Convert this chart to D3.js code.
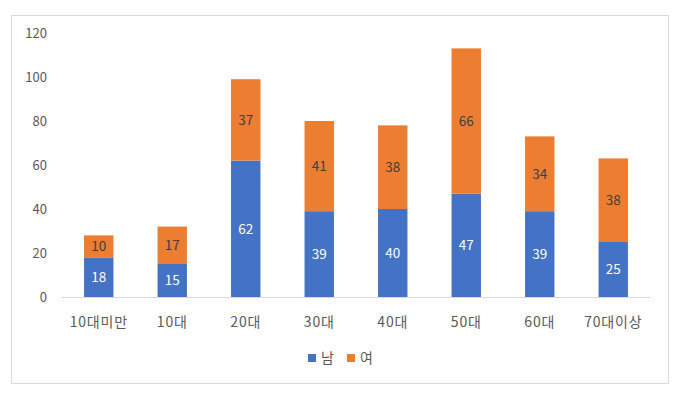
<!DOCTYPE html>
<html>
<head>
<meta charset="utf-8">
<script src="https://cdn.jsdelivr.net/npm/d3@7"></script>
<style>
  body { margin: 0; background: #fff; }
  text { font-family: "Noto Sans CJK KR", "Noto Sans", sans-serif; }
</style>
</head>
<body>
<div id="chart-area"></div>
<script>
// data
const categories = ["10대미만", "10대", "20대", "30대", "40대", "50대", "60대", "70대이상"];
const male = [18, 15, 62, 39, 40, 47, 39, 25];
const female = [10, 17, 37, 41, 38, 66, 34, 38];
const yTicks = [0, 20, 40, 60, 80, 100, 120];
const seriesNames = ["남", "여"];
const colors = ["#4472C4", "#ED7D31"];

const W = 680, H = 396;
const svg = d3.select("#chart-area").append("svg")
  .attr("width", W)
  .attr("height", H);

// chart border
svg.append("rect")
  .attr("x", 11.5).attr("y", 15.5)
  .attr("width", 657).attr("height", 368)
  .attr("fill", "#fff")
  .attr("stroke", "#d9d9d9");

const plot = { left: 62, right: 650, top: 33, bottom: 297 };

const x = d3.scaleBand()
  .domain(categories)
  .range([plot.left, plot.right])
  .paddingInner(0.6)
  .paddingOuter(0.3);

const y = d3.scaleLinear()
  .domain([0, 120])
  .range([plot.bottom, plot.top]);

// y tick labels
svg.append("g")
  .selectAll("text")
  .data(yTicks)
  .join("text")
  .attr("x", 47)
  .attr("y", d => y(d))
  .attr("dy", "0.35em")
  .attr("text-anchor", "end")
  .attr("font-size", 13)
  .attr("fill", "#595959")
  .text(d => d);

// stacked data
const rows = categories.map((c, i) => ({ cat: c, m: male[i], f: female[i] }));
const stack = d3.stack().keys(["m", "f"])(rows);

const layers = svg.append("g")
  .selectAll("g")
  .data(stack)
  .join("g")
  .attr("fill", (d, i) => colors[i]);

layers.selectAll("rect")
  .data(d => d)
  .join("rect")
  .attr("x", d => x(d.data.cat))
  .attr("width", x.bandwidth())
  .attr("y", d => y(d[1]))
  .attr("height", d => y(d[0]) - y(d[1]));

// value labels
layers.each(function (layer, li) {
  d3.select(this).selectAll("text")
    .data(layer)
    .join("text")
    .attr("x", d => x(d.data.cat) + x.bandwidth() / 2)
    .attr("y", d => (y(d[0]) + y(d[1])) / 2)
    .attr("dy", "0.35em")
    .attr("text-anchor", "middle")
    .attr("font-size", 13.5)
    .attr("fill", li === 0 ? "#ffffff" : "#404040")
    .text(d => d[1] - d[0]);
});

// x axis line
svg.append("line")
  .attr("x1", plot.left).attr("x2", plot.right)
  .attr("y1", plot.bottom + 0.5).attr("y2", plot.bottom + 0.5)
  .attr("stroke", "#d9d9d9");

// x labels
svg.append("g")
  .selectAll("text")
  .data(categories)
  .join("text")
  .attr("x", d => x(d) + x.bandwidth() / 2)
  .attr("y", 322)
  .attr("dy", "0.35em")
  .attr("text-anchor", "middle")
  .attr("font-size", 14)
  .attr("letter-spacing", 0.8)
  .attr("fill", "#595959")
  .text(d => d);

// legend
const legend = svg.append("g");
const legendX = [308, 347];
seriesNames.forEach((name, i) => {
  legend.append("rect")
    .attr("x", legendX[i]).attr("y", 354)
    .attr("width", 8).attr("height", 8)
    .attr("fill", colors[i]);
  legend.append("text")
    .attr("x", legendX[i] + 13).attr("y", 358)
    .attr("dy", "0.35em")
    .attr("font-size", 14)
    .attr("fill", "#595959")
    .text(name);
});
</script>
</body>
</html>
